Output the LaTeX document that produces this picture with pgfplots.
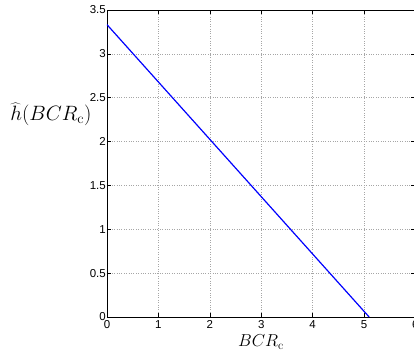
\documentclass[border=0pt]{standalone}
\usepackage{pgfplots}
\pgfplotsset{compat=1.18}
\usepackage[no-math]{fontspec}
\setmainfont{Liberation Sans}
\begin{document}
\begin{tikzpicture}
\path[use as bounding box, clip] (-107pt,-45pt) rectangle (307pt,317pt);
\begin{axis}[
  at={(0pt,0pt)}, anchor=south west,
  scale only axis, width=308.4pt, height=307pt,
  xmin=0, xmax=6, ymin=0, ymax=3.5,
  xtick={0,1,2,3,4,5,6},
  ytick={0,0.5,1,1.5,2,2.5,3,3.5},
  yticklabels={0,0.5,1,1.5,2,2.5,3,3.5},
  xticklabels={0,1,2,3,4,5,6},
  tick align=inside, major tick length=4pt,
  tick style={black, line width=0.5pt},
  axis line style={black, line width=0.8pt},
  grid=major,
  major grid style={dotted, gray!70, line width=0.5pt},
  ticklabel style={font=\fontsize{11.5}{13}\selectfont},
  yticklabel style={inner sep=1pt},
  xticklabel style={inner sep=1pt, yshift=-2pt},
  xlabel={$BCR_{\mathrm{c}}$},
  ylabel={$\widehat{h}(BCR_{\mathrm{c}})$},
  xlabel style={font=\fontsize{17.5}{20}\selectfont, at={(axis description cs:0.4994,-0.0814)}, anchor=center},
  ylabel style={font=\fontsize{21}{24}\selectfont, at={(axis description cs:-0.182,0.661)}, rotate=-90, anchor=center},
]
\addplot[blue, line width=1.2pt, no marks] coordinates {(0,3.333) (5.1,0)};
\end{axis}
\end{tikzpicture}
\end{document}
